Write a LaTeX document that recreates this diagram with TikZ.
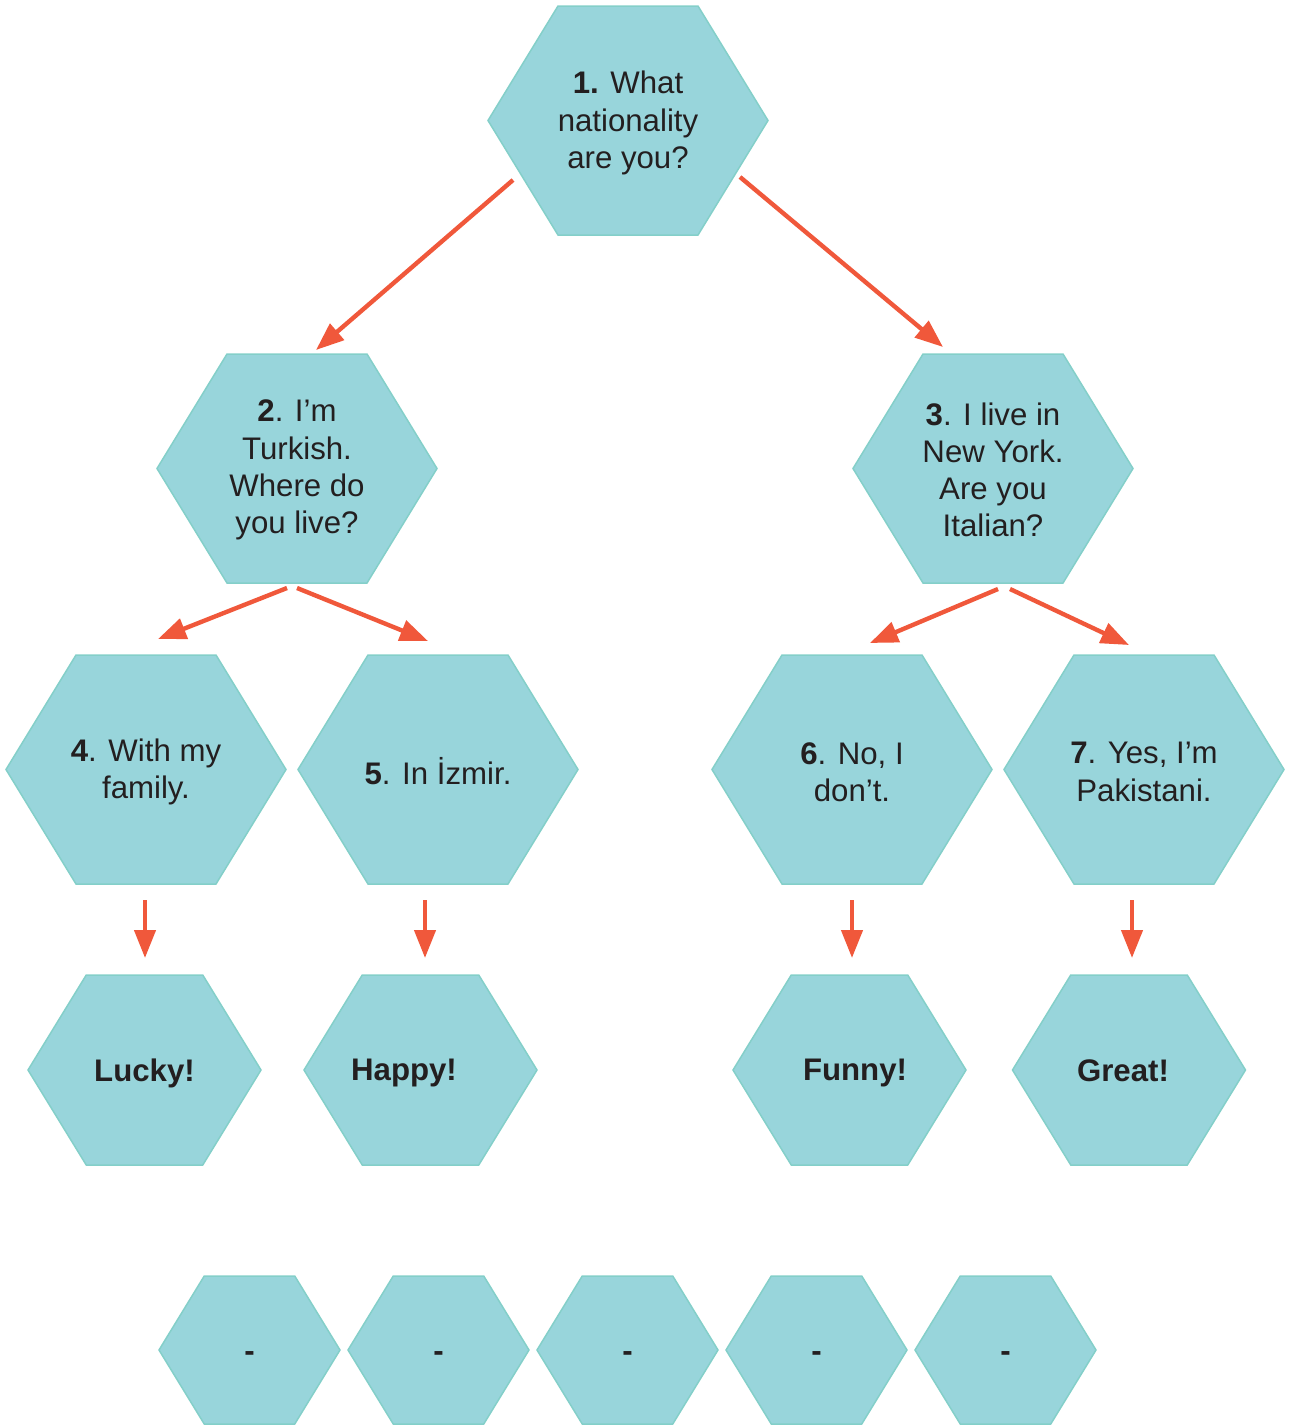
\documentclass[tikz,border=0pt]{standalone}
\usepackage{fontspec}
\setmainfont{Liberation Sans}
\usetikzlibrary{arrows.meta}
\definecolor{hexfill}{HTML}{98D5DB}
\definecolor{hexline}{HTML}{84CFC9}
\definecolor{arr}{HTML}{F0583B}
\definecolor{txt}{HTML}{231F20}
\newcommand{\hexagon}[5]{% name, cx, cy, half width, half height
  \path[hexshape] (#2-#4,#3) -- (#2-#4/2,#3-#5) -- (#2+#4/2,#3-#5) -- (#2+#4,#3) -- (#2+#4/2,#3+#5) -- (#2-#4/2,#3+#5) -- cycle;
  \coordinate (#1) at (#2,#3);
}
\tikzset{
  hexshape/.style={fill=hexfill, draw=hexline, line width=0.75pt},
  label/.style={text=txt, font=\fontsize{15.6}{18.6}\selectfont, align=center, inner sep=0pt},
  blabel/.style={label, font=\fontsize{15.6}{18.6}\selectfont\bfseries},
  conn/.style={draw=arr, line width=2.2pt, -{Triangle[length=14pt,width=10.5pt]}},
}
\begin{document}
\begin{tikzpicture}[x=0.5pt,y=-0.5pt]
\useasboundingbox (0,0) rectangle (1291,1425);
\hexagon{h1}{628}{120.5}{140}{114.5}
\hexagon{h2}{297}{468.5}{140}{114.5}
\hexagon{h3}{993}{468.5}{140}{114.5}
\hexagon{h4}{146}{769.5}{140}{114.5}
\hexagon{h5}{438}{769.5}{140}{114.5}
\hexagon{h6}{852}{769.5}{140}{114.5}
\hexagon{h7}{1144}{769.5}{140}{114.5}
\hexagon{h8}{144.5}{1070}{116.5}{95}
\hexagon{h9}{420.5}{1070}{116.5}{95}
\hexagon{h10}{849.5}{1070}{116.5}{95}
\hexagon{h11}{1129}{1070}{116.5}{95}
\hexagon{b1}{249.5}{1350}{90.5}{74}
\hexagon{b2}{438.5}{1350}{90.5}{74}
\hexagon{b3}{627.5}{1350}{90.5}{74}
\hexagon{b4}{816.5}{1350}{90.5}{74}
\hexagon{b5}{1005.5}{1350}{90.5}{74}
% texts
\node[label] (t1) at (628,123) {\textbf{1.} What\\nationality\\are you?};
\node[label] (t2) at (297,470) {\textbf{2}. I’m\\Turkish.\\Where do\\you live?};
\node[label] (t3) at (993,470) {\textbf{3}. I live in\\New York.\\Are you\\Italian?};
\node[label] (t4) at (146,772) {\textbf{4}. With my\\family.};
\node[label] (t5) at (438,771) {\textbf{5}. In İzmir.};
\node[label] (t6) at (852,772) {\textbf{6}. No, I\\don’t.};
\node[label] (t7) at (1144,772) {\textbf{7}. Yes, I’m\\Pakistani.};
\node[blabel] (t8) at (144.5,1073) {Lucky!};
\node[blabel] (t9) at (404,1073) {Happy!};
\node[blabel] (t10) at (855,1073) {Funny!};
\node[blabel] (t11) at (1123,1071) {Great!};
\foreach \n/\x in {1/249.5,2/438.5,3/627.5,4/816.5,5/1005.5}
  \node[blabel] (d\n) at (\x,1357) {-};
% connector end points
\coordinate (a1s) at (513,180);  \coordinate (a1e) at (316,350);
\coordinate (a2s) at (740,177);  \coordinate (a2e) at (943,347);
\coordinate (a3s) at (287,588);  \coordinate (a3e) at (158,639);
\coordinate (a4s) at (297,588);  \coordinate (a4e) at (428,641);
\coordinate (a5s) at (998,589);  \coordinate (a5e) at (870,643);
\coordinate (a6s) at (1010,589); \coordinate (a6e) at (1129,645);
\coordinate (a7s) at (145,900);  \coordinate (a7e) at (145,958);
\coordinate (a8s) at (425,900);  \coordinate (a8e) at (425,958);
\coordinate (a9s) at (852,900);  \coordinate (a9e) at (852,958);
\coordinate (a10s) at (1132,900); \coordinate (a10e) at (1132,958);
\foreach \i in {1,...,10} \draw[conn] (a\i s) -- (a\i e);
\end{tikzpicture}
\end{document}
